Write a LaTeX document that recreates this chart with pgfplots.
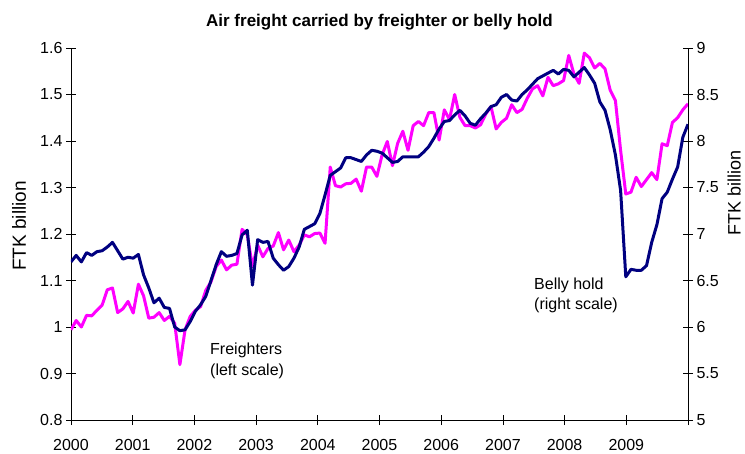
\documentclass[border=0pt]{standalone}
\usepackage{fontspec}
\setmainfont{Liberation Sans}
\usepackage{pgfplots}
\usepackage{pgfplotstable}
\pgfplotsset{compat=1.18}
\definecolor{mag}{HTML}{FF00FF}
\definecolor{nav}{HTML}{000080}
\pgfplotstableread{
i f b
0 0.994 6.70
1 1.014 6.77
2 1.000 6.70
3 1.025 6.80
4 1.024 6.77
5 1.036 6.81
6 1.047 6.82
7 1.080 6.86
8 1.084 6.91
9 1.031 6.82
10 1.039 6.73
11 1.055 6.75
12 1.030 6.74
13 1.092 6.78
14 1.067 6.56
15 1.019 6.42
16 1.021 6.26
17 1.031 6.31
18 1.014 6.21
19 1.023 6.20
20 1.008 6.00
21 0.919 5.96
22 0.994 5.97
23 1.023 6.06
24 1.036 6.17
25 1.044 6.24
26 1.079 6.33
27 1.097 6.50
28 1.130 6.67
29 1.144 6.81
30 1.123 6.76
31 1.133 6.77
32 1.135 6.79
33 1.210 6.99
34 1.198 7.04
35 1.130 6.45
36 1.176 6.94
37 1.151 6.91
38 1.169 6.92
39 1.174 6.74
40 1.203 6.67
41 1.166 6.61
42 1.187 6.65
43 1.162 6.74
44 1.176 6.86
45 1.198 7.05
46 1.194 7.08
47 1.201 7.11
48 1.202 7.22
49 1.180 7.42
50 1.344 7.63
51 1.304 7.67
52 1.301 7.71
53 1.308 7.82
54 1.309 7.82
55 1.318 7.80
56 1.292 7.78
57 1.344 7.85
58 1.344 7.90
59 1.324 7.89
60 1.370 7.87
61 1.399 7.82
62 1.347 7.77
63 1.395 7.78
64 1.421 7.83
65 1.380 7.83
66 1.433 7.83
67 1.442 7.83
68 1.433 7.88
69 1.461 7.94
70 1.461 8.03
71 1.402 8.13
72 1.467 8.21
73 1.446 8.22
74 1.500 8.28
75 1.451 8.33
76 1.433 8.27
77 1.433 8.19
78 1.428 8.17
79 1.435 8.24
80 1.458 8.30
81 1.474 8.37
82 1.426 8.39
83 1.440 8.47
84 1.449 8.50
85 1.478 8.44
86 1.461 8.43
87 1.468 8.50
88 1.492 8.55
89 1.512 8.61
90 1.519 8.67
91 1.497 8.70
92 1.537 8.73
93 1.519 8.76
94 1.523 8.72
95 1.530 8.77
96 1.584 8.76
97 1.544 8.69
98 1.524 8.74
99 1.589 8.79
100 1.579 8.71
101 1.557 8.62
102 1.567 8.42
103 1.555 8.33
104 1.509 8.12
105 1.487 7.85
106 1.380 7.47
107 1.286 6.54
108 1.290 6.62
109 1.322 6.61
110 1.302 6.61
111 1.317 6.66
112 1.332 6.91
113 1.317 7.10
114 1.394 7.38
115 1.390 7.45
116 1.440 7.59
117 1.450 7.72
118 1.467 8.04
119 1.480 8.18
}\data

\begin{document}
\begin{tikzpicture}[font=\fontsize{16}{19}\selectfont]
\pgfplotsset{
  common/.style={
    scale only axis, width=617pt, height=372pt,
    xmin=0, xmax=119,
    tick align=center, major tick length=10pt,
    tick style={black, line width=0.8pt},
    axis line style={black, line width=0.8pt, -},
    /pgf/number format/assume math mode=true,
    tick label style={font=\fontsize{16}{19}\selectfont},
    /pgf/number format/fixed,
    /pgf/number format/precision=1,
  }
}
\begin{axis}[common,
  ymin=0.8, ymax=1.6,
  axis x line*=bottom, axis y line*=left,
  xtick={0,11.9,23.8,35.7,47.6,59.5,71.4,83.3,95.2,107.1,119},
  xticklabels={2000,2001,2002,2003,2004,2005,2006,2007,2008,2009,},
  xticklabel style={yshift=-11pt},
  ytick={0.8,0.9,1,1.1,1.2,1.3,1.4,1.5,1.6},
]
\addplot[mag, line width=3pt, line join=round] table[x=i,y=f]{\data};
\end{axis}
\begin{axis}[common,
  ymin=5, ymax=9,
  axis x line=none, axis y line*=right,
  ytick={5,5.5,6,6.5,7,7.5,8,8.5,9},
]
\addplot[nav, line width=3pt, line join=round] table[x=i,y=b]{\data};
\end{axis}
\node[anchor=base, font=\fontsize{17}{20}\selectfont\bfseries] at (308.5pt,393.3pt) {Air freight carried by freighter or belly hold};
\node[rotate=90, font=\fontsize{19}{22}\selectfont] at (-52pt,194pt) {FTK billion};
\node[rotate=90, font=\fontsize{18}{21}\selectfont, anchor=south, inner sep=0pt] at (670pt,227pt) {FTK billion};
\node[anchor=base west, inner sep=0pt] at (139pt,65pt) {Freighters};
\node[anchor=base west, inner sep=0pt] at (139pt,45pt) {(left scale)};
\node[anchor=base west, inner sep=0pt] at (463pt,130pt) {Belly hold};
\node[anchor=base west, inner sep=0pt] at (463pt,110pt) {(right scale)};
\pgfresetboundingbox
\path (-71pt,-33pt) rectangle (674pt,420pt);
\end{tikzpicture}
\end{document}
